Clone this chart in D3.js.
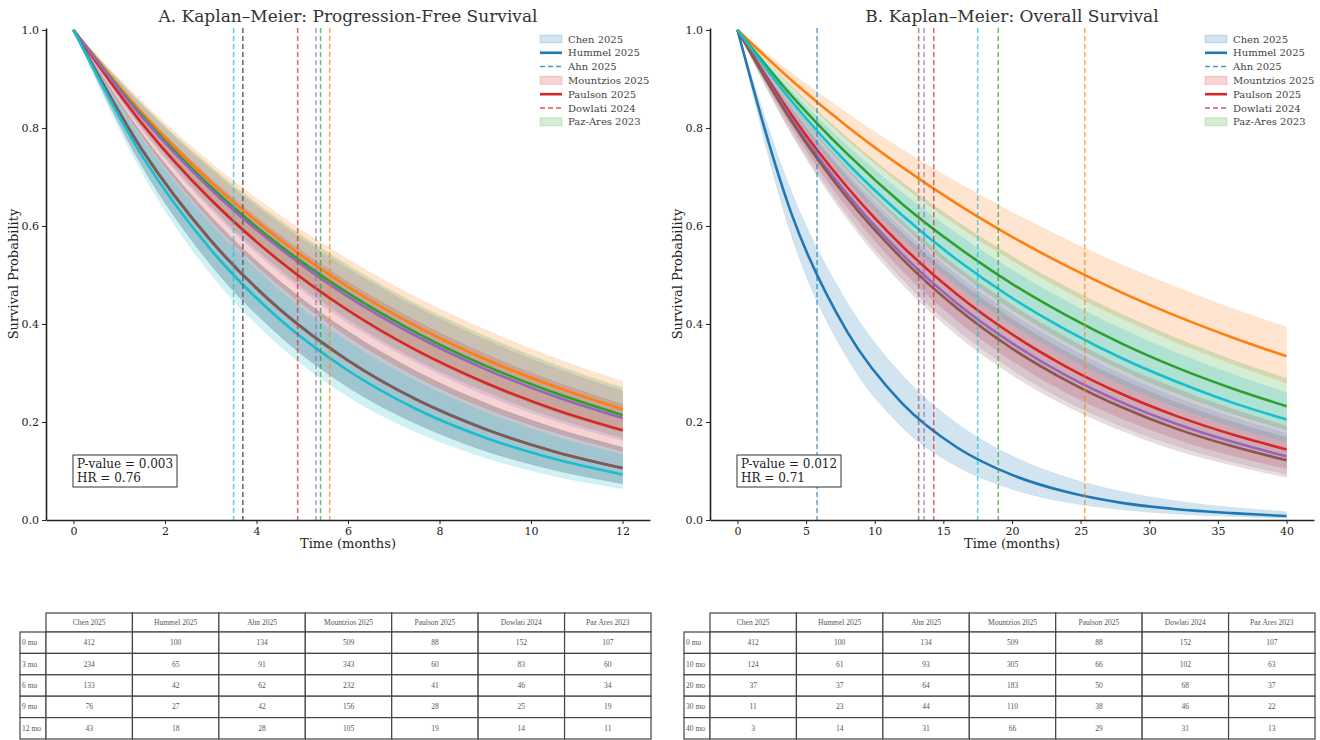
<!DOCTYPE html>
<html>
<head>
<meta charset="utf-8">
<script src="https://cdn.jsdelivr.net/npm/d3@7"></script>
<style>
  body { margin: 0; background: #fff; }
  text { font-family: "DejaVu Serif", serif; }
</style>
</head>
<body>
<script>
var studies = ["Chen 2025", "Hummel 2025", "Ahn 2025", "Mountzios 2025", "Paulson 2025", "Dowlati 2024", "Paz-Ares 2023"];
var tableHeads = ["Chen 2025", "Hummel 2025", "Ahn 2025", "Mountzios 2025", "Paulson 2025", "Dowlati 2024", "Paz Ares 2023"];
var colors = ["#1f77b4", "#ff7f0e", "#2ca02c", "#d62728", "#9467bd", "#8c564b", "#17becf"];

// PFS: months and read-off survival / CI bounds, one row per study
var pfsTimes = [0, 1.5, 3, 4.5, 6, 7.5, 9, 10.5, 12];
var pfsSurv = [
  [1, .756, .571, .431, .326, .246, .186, .140, .106],
  [1, .831, .690, .573, .476, .395, .328, .273, .226],
  [1, .825, .680, .561, .463, .382, .315, .260, .214],
  [1, .809, .654, .529, .428, .346, .280, .226, .183],
  [1, .822, .675, .555, .456, .375, .308, .253, .208],
  [1, .755, .570, .430, .325, .245, .185, .140, .106],
  [1, .743, .552, .410, .305, .226, .168, .125, .093]
];
var pfsLower = [
  [1, .722, .521, .376, .271, .196, .141, .102, .074],
  [1, .806, .650, .524, .423, .341, .275, .221, .179],
  [1, .800, .640, .512, .409, .327, .262, .209, .168],
  [1, .782, .611, .478, .374, .292, .228, .179, .140],
  [1, .796, .634, .505, .402, .321, .255, .203, .162],
  [1, .722, .521, .376, .271, .196, .141, .102, .074],
  [1, .709, .502, .356, .252, .179, .127, .090, .064]
];
var pfsUpper = [
  [1, .788, .620, .488, .385, .303, .239, .188, .148],
  [1, .854, .729, .623, .532, .454, .388, .331, .283],
  [1, .849, .721, .612, .520, .441, .375, .318, .270],
  [1, .835, .697, .582, .486, .406, .339, .283, .236],
  [1, .846, .716, .606, .513, .434, .368, .311, .263],
  [1, .788, .620, .488, .385, .303, .239, .188, .148],
  [1, .777, .604, .469, .364, .283, .220, .171, .133]
];
var pfsMedian = [3.7, 5.6, 5.4, 4.9, 5.3, 3.7, 3.5];

// OS
var osTimes = [0, 4, 8, 12, 16, 20, 24, 28, 32, 36, 40];
var osSurv = [
  [1, .620, .384, .238, .148, .092, .057, .035, .022, .014, .008],
  [1, .896, .803, .720, .645, .578, .518, .464, .416, .373, .334],
  [1, .864, .747, .645, .558, .482, .417, .360, .311, .269, .232],
  [1, .824, .679, .559, .460, .379, .312, .257, .212, .175, .144],
  [1, .816, .665, .542, .442, .361, .294, .240, .196, .160, .130],
  [1, .811, .657, .533, .432, .350, .284, .230, .186, .151, .122],
  [1, .853, .728, .622, .531, .453, .387, .330, .282, .240, .205]
];
var osLower = [
  [1, .574, .330, .189, .109, .063, .036, .021, .012, .007, .004],
  [1, .881, .775, .683, .601, .530, .466, .411, .362, .319, .280],
  [1, .844, .713, .602, .508, .429, .362, .306, .258, .218, .184],
  [1, .799, .638, .509, .407, .325, .259, .207, .165, .132, .105],
  [1, .789, .623, .492, .388, .307, .242, .191, .151, .119, .094],
  [1, .784, .614, .481, .377, .296, .232, .182, .142, .112, .087],
  [1, .832, .692, .576, .479, .399, .332, .276, .230, .191, .159]
];
var osUpper = [
  [1, .666, .444, .296, .197, .131, .087, .058, .039, .026, .017],
  [1, .911, .830, .756, .689, .628, .572, .521, .475, .432, .394],
  [1, .883, .780, .689, .609, .538, .475, .420, .371, .327, .289],
  [1, .848, .719, .610, .517, .439, .372, .315, .268, .227, .192],
  [1, .841, .707, .595, .500, .420, .354, .297, .250, .210, .177],
  [1, .836, .700, .585, .490, .410, .343, .287, .240, .201, .168],
  [1, .874, .764, .668, .584, .510, .446, .390, .341, .298, .260]
];
var osMedian = [5.8, 25.3, 19, 14.3, 13.6, 13.2, 17.5];

// numbers at risk
var pfsRiskRows = ["0 mo", "3 mo", "6 mo", "9 mo", "12 mo"];
var pfsRisk = [
  [412, 234, 133, 76, 43],
  [100, 65, 42, 27, 18],
  [134, 91, 62, 42, 28],
  [509, 343, 232, 156, 105],
  [88, 60, 41, 28, 19],
  [152, 83, 46, 25, 14],
  [107, 60, 34, 19, 11]
];
var osRiskRows = ["0 mo", "10 mo", "20 mo", "30 mo", "40 mo"];
var osRisk = [
  [412, 124, 37, 11, 3],
  [100, 61, 37, 23, 14],
  [134, 93, 64, 44, 31],
  [509, 305, 183, 110, 66],
  [88, 66, 50, 38, 29],
  [152, 102, 68, 46, 31],
  [107, 63, 37, 22, 13]
];

var yTicks = [0, 0.2, 0.4, 0.6, 0.8, 1.0];
var legendKinds = ["patch", "line", "dash", "patch", "line", "dash", "patch"];
var legendColors = ["#1f77b4", "#1f77b4", "#1f77b4", "#d62728", "#d62728", "#d62728", "#2ca02c"];

var svg = d3.select("body").append("svg")
    .attr("width", 1320)
    .attr("height", 740);

function drawPanel(cfg) {
  var top = 28, bottom = 520;
  var x = d3.scaleLinear().domain(cfg.xDomain).range([cfg.left, cfg.right]);
  var y = d3.scaleLinear().domain([0, 1.004]).range([bottom, top]);
  var g = svg.append("g");

  var area = d3.area()
      .x(function(d) { return x(d.t); })
      .y0(function(d) { return y(d.lo); })
      .y1(function(d) { return y(d.hi); })
      .curve(d3.curveMonotoneX);
  var line = d3.line()
      .x(function(d) { return x(d.t); })
      .y(function(d) { return y(d.s); })
      .curve(d3.curveMonotoneX);

  var series = studies.map(function(name, i) {
    return cfg.times.map(function(t, k) {
      return {t: t, s: cfg.surv[i][k], lo: cfg.lower[i][k], hi: cfg.upper[i][k]};
    });
  });

  // bands first, then curves, then median markers
  series.forEach(function(pts, i) {
    g.append("path").attr("d", area(pts))
        .attr("fill", colors[i]).attr("fill-opacity", 0.2)
        .attr("stroke", colors[i]).attr("stroke-opacity", 0.08);
  });
  series.forEach(function(pts, i) {
    g.append("path").attr("d", line(pts))
        .attr("fill", "none").attr("stroke", colors[i]).attr("stroke-width", 2.6);
  });
  cfg.median.forEach(function(m, i) {
    g.append("line")
        .attr("x1", x(m)).attr("x2", x(m))
        .attr("y1", top).attr("y2", bottom)
        .attr("stroke", colors[i]).attr("stroke-width", 1.5)
        .attr("stroke-dasharray", "5,3").attr("stroke-opacity", 0.7);
  });

  // axes
  var xa = g.append("g").attr("transform", "translate(0," + bottom + ")")
      .call(d3.axisBottom(x).tickValues(cfg.xTicks).tickSize(4).tickSizeOuter(0).tickPadding(3));
  var ya = g.append("g").attr("transform", "translate(" + cfg.left + ",0)")
      .call(d3.axisLeft(y).tickValues(yTicks).tickFormat(d3.format(".1f")).tickSize(4).tickSizeOuter(0).tickPadding(3));
  [xa, ya].forEach(function(a) {
    a.select(".domain").attr("stroke", "#222").attr("stroke-width", 1.6);
    a.selectAll(".tick line").attr("stroke", "#222");
    a.selectAll("text").style("font-family", "DejaVu Serif").style("font-size", "11px").attr("fill", "#222");
  });

  g.append("text").attr("x", (cfg.left + cfg.right) / 2).attr("y", 548)
      .attr("text-anchor", "middle").style("font-size", "13px").attr("fill", "#222")
      .text("Time (months)");
  g.append("text").attr("transform", "translate(" + (cfg.left - 28) + "," + ((top + bottom) / 2) + ")rotate(-90)")
      .attr("text-anchor", "middle").style("font-size", "13px").attr("fill", "#222")
      .text("Survival Probability");
  g.append("text").attr("x", (cfg.left + cfg.right) / 2).attr("y", 22)
      .attr("text-anchor", "middle").style("font-size", "17px").attr("fill", "#333")
      .text(cfg.title);

  // legend
  var lg = g.append("g").attr("transform", "translate(" + cfg.legendX + ",39)");
  studies.forEach(function(name, i) {
    var row = lg.append("g").attr("transform", "translate(0," + (i * 13.8) + ")");
    var c = legendColors[i];
    if (legendKinds[i] == "patch") {
      row.append("rect").attr("x", 0).attr("y", -4).attr("width", 22).attr("height", 8)
          .attr("fill", c).attr("fill-opacity", 0.2).attr("stroke", c).attr("stroke-opacity", 0.2);
    } else {
      row.append("line").attr("x1", 0).attr("x2", 22).attr("y1", 0).attr("y2", 0)
          .attr("stroke", c)
          .attr("stroke-width", legendKinds[i] == "line" ? 2.6 : 1.5)
          .attr("stroke-opacity", legendKinds[i] == "line" ? 1 : 0.8)
          .attr("stroke-dasharray", legendKinds[i] == "dash" ? "5,3" : null);
    }
    row.append("text").attr("x", 28).attr("y", 3.5).style("font-size", "10px").attr("fill", "#444").text(name);
  });

  // stats box
  var bx = cfg.left + 27;
  g.append("rect").attr("x", bx).attr("y", 455).attr("width", 104).attr("height", 32)
      .attr("fill", "#fff").attr("stroke", "#333").attr("stroke-width", 1);
  g.append("text").attr("x", bx + 4).attr("y", 468).style("font-size", "12px").attr("fill", "#222").text(cfg.pText);
  g.append("text").attr("x", bx + 4).attr("y", 482).style("font-size", "12px").attr("fill", "#222").text(cfg.hrText);
}

function drawTable(cfg) {
  var t = svg.append("g");
  var colW = (cfg.right - cfg.left) / tableHeads.length;
  var top = 613, headH = 19, rowH = 21.4;
  var lineC = "#444";
  function cellText(x, yy, s, anchor) {
    t.append("text").attr("x", x).attr("y", yy)
        .attr("text-anchor", anchor)
        .style("font-family", "Liberation Serif").style("font-size", "7.5px")
        .attr("fill", "#555").text(s);
  }
  tableHeads.forEach(function(h, j) {
    var cx = cfg.left + j * colW;
    t.append("rect").attr("x", cx).attr("y", top).attr("width", colW).attr("height", headH)
        .attr("fill", "#fff").attr("stroke", lineC).attr("stroke-width", 1.2);
    cellText(cx + colW / 2, top + headH / 2 + 2.5, h, "middle");
  });
  cfg.rows.forEach(function(r, i) {
    var ry = top + headH + i * rowH;
    t.append("rect").attr("x", cfg.labelX).attr("y", ry).attr("width", cfg.left - cfg.labelX).attr("height", rowH)
        .attr("fill", "#fff").attr("stroke", lineC).attr("stroke-width", 1.2);
    cellText(cfg.labelX + 2, ry + rowH / 2 + 2.5, r, "start");
    cfg.data.forEach(function(col, j) {
      var cx = cfg.left + j * colW;
      t.append("rect").attr("x", cx).attr("y", ry).attr("width", colW).attr("height", rowH)
          .attr("fill", "#fff").attr("stroke", lineC).attr("stroke-width", 1.2);
      cellText(cx + colW / 2, ry + rowH / 2 + 2.5, col[i], "middle");
    });
  });
}

drawPanel({
  left: 46, right: 650, xDomain: [-0.6, 12.6], xTicks: [0, 2, 4, 6, 8, 10, 12],
  times: pfsTimes, surv: pfsSurv, lower: pfsLower, upper: pfsUpper, median: pfsMedian,
  title: "A. Kaplan\u2013Meier: Progression-Free Survival", legendX: 540,
  pText: "P-value = 0.003", hrText: "HR = 0.76"
});
drawPanel({
  left: 710, right: 1314, xDomain: [-2, 42], xTicks: [0, 5, 10, 15, 20, 25, 30, 35, 40],
  times: osTimes, surv: osSurv, lower: osLower, upper: osUpper, median: osMedian,
  title: "B. Kaplan\u2013Meier: Overall Survival", legendX: 1205,
  pText: "P-value = 0.012", hrText: "HR = 0.71"
});

drawTable({labelX: 20, left: 46, right: 651, rows: pfsRiskRows, data: pfsRisk});
drawTable({labelX: 684, left: 710, right: 1315, rows: osRiskRows, data: osRisk});
</script>
</body>
</html>
